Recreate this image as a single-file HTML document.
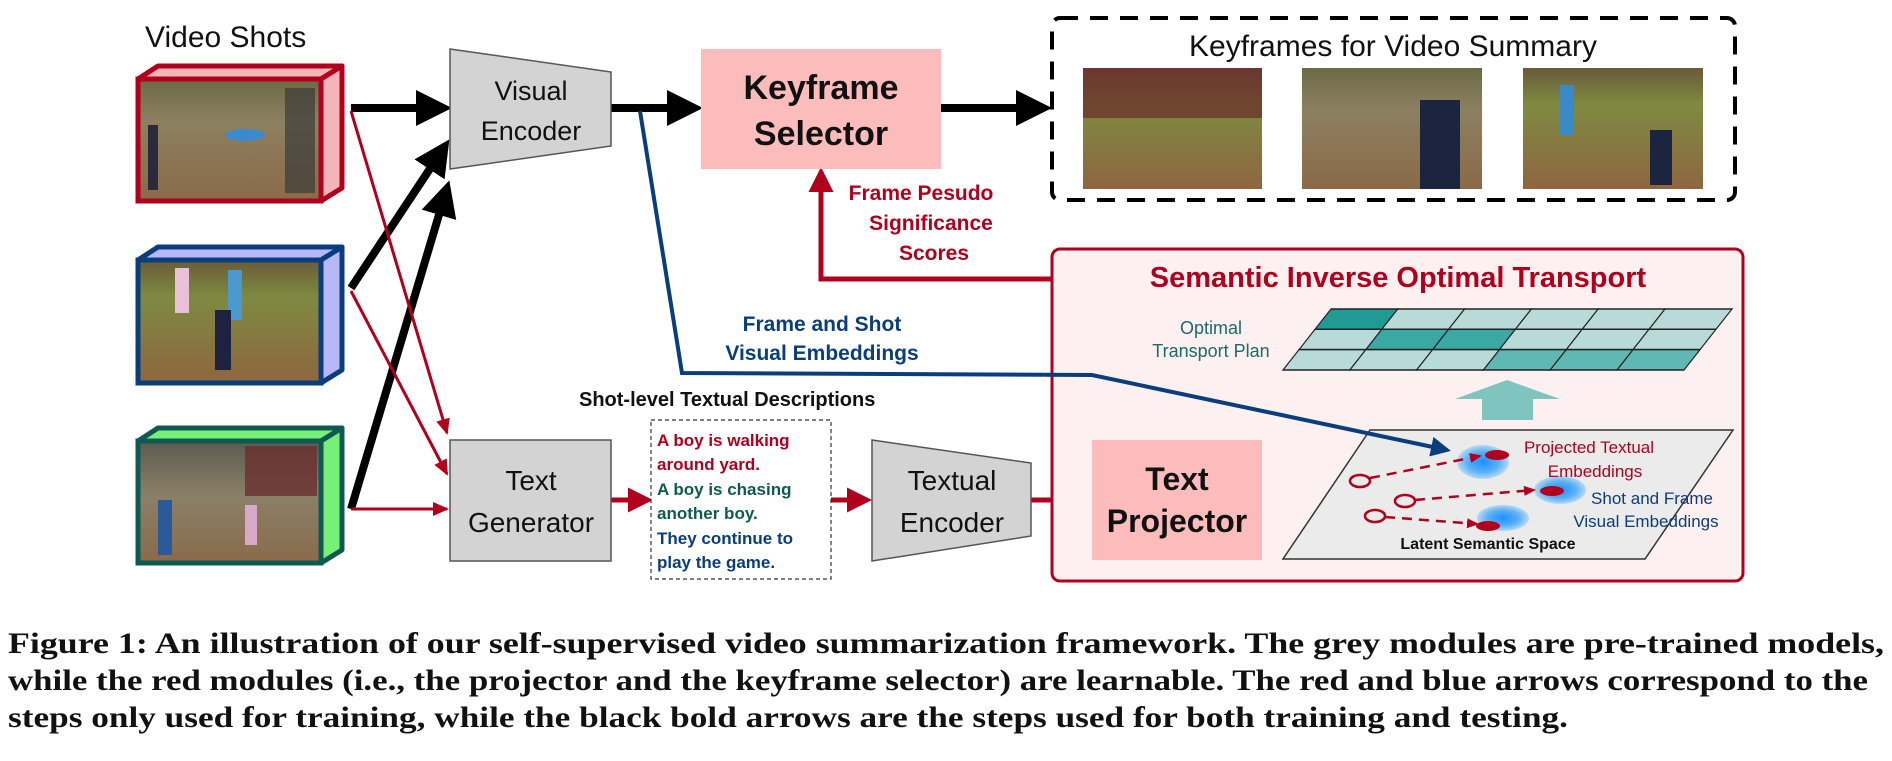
<!DOCTYPE html>
<html><head><meta charset="utf-8"><style>
html,body{margin:0;padding:0;background:#fff;}
svg{display:block;font-family:"Liberation Sans",Arial,sans-serif;}
</style></head><body>
<svg width="1892" height="761" viewBox="0 0 1892 761" xmlns="http://www.w3.org/2000/svg">
<defs>
<marker id="ak" markerWidth="4.5" markerHeight="4.5" refX="3.5" refY="2.25" orient="auto" markerUnits="strokeWidth"><path d="M0,0 L4.5,2.25 L0,4.5 z" fill="#000"/></marker>
<marker id="ar" markerWidth="5" markerHeight="5" refX="4" refY="2.5" orient="auto" markerUnits="strokeWidth"><path d="M0,0 L5,2.5 L0,5 z" fill="#b0001e"/></marker>
<marker id="arl" markerWidth="16" markerHeight="14" refX="14" refY="7" orient="auto" markerUnits="userSpaceOnUse"><path d="M0,0 L16,7 L0,14 z" fill="#b0001e"/></marker>
<marker id="ars" markerWidth="12" markerHeight="10" refX="10" refY="5" orient="auto" markerUnits="userSpaceOnUse"><path d="M0,0 L12,5 L0,10 z" fill="#b0001e"/></marker>
<marker id="ab" markerWidth="5" markerHeight="5" refX="4" refY="2.5" orient="auto" markerUnits="strokeWidth"><path d="M0,0 L5,2.5 L0,5 z" fill="#0a3d7c"/></marker>
<linearGradient id="ph1" x1="0" y1="0" x2="0" y2="1"><stop offset="0" stop-color="#6b6a45"/><stop offset="0.35" stop-color="#8c8060"/><stop offset="1" stop-color="#8a6a48"/></linearGradient>
<linearGradient id="ph2" x1="0" y1="0" x2="0" y2="1"><stop offset="0" stop-color="#6a5a3a"/><stop offset="0.3" stop-color="#7e8a40"/><stop offset="1" stop-color="#8e6640"/></linearGradient>
<linearGradient id="ph3" x1="0" y1="0" x2="0" y2="1"><stop offset="0" stop-color="#5e5a50"/><stop offset="0.45" stop-color="#8a8068"/><stop offset="1" stop-color="#8a6a4a"/></linearGradient>
<radialGradient id="blob"><stop offset="0" stop-color="#1e90ff"/><stop offset="0.6" stop-color="#5ab0f5"/><stop offset="1" stop-color="#b5d9f5"/></radialGradient>
</defs>

<text x="145" y="47" font-size="30" fill="#111">Video Shots</text>

<polygon points="138,79 158,66 342,66 321,79" fill="#f4b4b8" stroke="#b0001e" stroke-width="5" stroke-linejoin="round"/>
<polygon points="321,79 342,66 342,188 321,201" fill="#f4b4b8" stroke="#b0001e" stroke-width="5" stroke-linejoin="round"/>
<rect x="138" y="79" width="183" height="122" fill="url(#ph1)" stroke="#b0001e" stroke-width="5"/>
<rect x="285" y="88" width="30" height="105" fill="#3c3a38" opacity="0.7"/>
<ellipse cx="245" cy="135" rx="20" ry="6" fill="#3a8ad0"/>
<rect x="148" y="125" width="10" height="65" fill="#2a2a3a"/>
<polygon points="138,260 158,247 342,247 321,260" fill="#b8b8f8" stroke="#0a3d7c" stroke-width="5" stroke-linejoin="round"/>
<polygon points="321,260 342,247 342,370 321,383" fill="#b8b8f8" stroke="#0a3d7c" stroke-width="5" stroke-linejoin="round"/>
<rect x="138" y="260" width="183" height="123" fill="url(#ph2)" stroke="#0a3d7c" stroke-width="5"/>
<rect x="175" y="268" width="14" height="45" fill="#e8c0d8"/>
<rect x="228" y="270" width="14" height="50" fill="#4a9ad0"/>
<rect x="215" y="310" width="16" height="60" fill="#1c2240"/>
<polygon points="138,441 158,428 342,428 321,441" fill="#78f078" stroke="#0e5a52" stroke-width="5" stroke-linejoin="round"/>
<polygon points="321,441 342,428 342,550 321,563" fill="#78f078" stroke="#0e5a52" stroke-width="5" stroke-linejoin="round"/>
<rect x="138" y="441" width="183" height="122" fill="url(#ph3)" stroke="#0e5a52" stroke-width="5"/>
<rect x="245" y="446" width="72" height="50" fill="#6a3030" opacity="0.8"/>
<rect x="158" y="500" width="14" height="55" fill="#2a5a9a"/>
<rect x="245" y="505" width="12" height="40" fill="#d8a8c8"/>

<g stroke="#000" stroke-width="8" fill="none">
<line x1="351" y1="108" x2="444" y2="108" marker-end="url(#ak)"/>
<polyline points="351,288 445,146" marker-end="url(#ak)"/>
<polyline points="351,509 447,188" marker-end="url(#ak)"/>
<line x1="611" y1="108" x2="695" y2="108" marker-end="url(#ak)"/>
<line x1="941" y1="108" x2="1044" y2="108" marker-end="url(#ak)"/>
</g>
<g stroke="#b0001e" stroke-width="3" fill="none">
<polyline points="351,111 447,433" marker-end="url(#arl)"/>
<polyline points="351,291 447,474" marker-end="url(#arl)"/>
<polyline points="351,509 447,509" marker-end="url(#arl)"/>
</g>
<g stroke="#b0001e" stroke-width="5" fill="none">
<line x1="611" y1="500" x2="648" y2="500" marker-end="url(#ar)"/>
<line x1="831" y1="500" x2="867" y2="500" marker-end="url(#ar)"/>
<line x1="1031" y1="500" x2="1089" y2="500" marker-end="url(#ar)"/>
<line x1="1262" y1="500" x2="1308" y2="500" marker-end="url(#ar)"/>
<polyline points="1052,279 821,279 821,172" marker-end="url(#ar)"/>
</g>

<polygon points="450,49 611,72 611,146 450,169" fill="#d3d3d3" stroke="#555" stroke-width="1.5"/>
<text x="531" y="100" font-size="27" text-anchor="middle" fill="#111">Visual</text>
<text x="531" y="140" font-size="27" text-anchor="middle" fill="#111">Encoder</text>
<rect x="701" y="49" width="240" height="120" fill="#fdbcbc"/>
<text x="821" y="99" font-size="34" font-weight="bold" text-anchor="middle" fill="#111">Keyframe</text>
<text x="821" y="145" font-size="34" font-weight="bold" text-anchor="middle" fill="#111">Selector</text>

<rect x="1052" y="18" width="683" height="182" rx="8" fill="none" stroke="#000" stroke-width="4" stroke-dasharray="18,12"/>
<text x="1393" y="56" font-size="30" text-anchor="middle" fill="#111">Keyframes for Video Summary</text>
<rect x="1083" y="68" width="179" height="121" fill="url(#ph2)"/>
<rect x="1083" y="68" width="179" height="50" fill="#6a2a2a" opacity="0.7"/>
<rect x="1302" y="68" width="180" height="121" fill="url(#ph1)"/>
<rect x="1420" y="100" width="40" height="89" fill="#1c2540"/>
<rect x="1523" y="68" width="180" height="121" fill="url(#ph2)"/>
<rect x="1560" y="85" width="14" height="50" fill="#3a8ac8"/>
<rect x="1650" y="130" width="22" height="55" fill="#1c2540"/>

<g font-size="21" font-weight="bold" fill="#b0001e" text-anchor="middle">
<text x="921" y="200">Frame Pesudo</text>
<text x="931" y="230">Significance</text>
<text x="934" y="260">Scores</text>
</g>

<g font-size="21" font-weight="bold" fill="#0a3d7c" text-anchor="middle">
<text x="822" y="331">Frame and Shot</text>
<text x="822" y="360">Visual Embeddings</text>
</g>

<text x="579" y="406" font-size="20" font-weight="bold" fill="#111">Shot-level Textual Descriptions</text>

<rect x="450" y="440" width="161" height="121" fill="#d3d3d3" stroke="#555" stroke-width="1.5"/>
<text x="531" y="490" font-size="28" text-anchor="middle" fill="#111">Text</text>
<text x="531" y="532" font-size="28" text-anchor="middle" fill="#111">Generator</text>

<rect x="651" y="420" width="180" height="159" fill="#fff" stroke="#333" stroke-width="1.2" stroke-dasharray="4,3"/>
<g font-size="17" font-weight="bold">
<text x="657" y="446" fill="#b0001e">A boy is walking</text>
<text x="657" y="470" fill="#b0001e">around yard.</text>
<text x="657" y="495" fill="#0e5a52">A boy is chasing</text>
<text x="657" y="519" fill="#0e5a52">another boy.</text>
<text x="657" y="544" fill="#0a3d7c">They continue to</text>
<text x="657" y="568" fill="#0a3d7c">play the game.</text>
</g>

<polygon points="872,440 1031,463 1031,536 872,561" fill="#d3d3d3" stroke="#555" stroke-width="1.5"/>
<text x="952" y="490" font-size="28" text-anchor="middle" fill="#111">Textual</text>
<text x="952" y="532" font-size="28" text-anchor="middle" fill="#111">Encoder</text>

<rect x="1052" y="249" width="691" height="332" rx="8" fill="#fdf0f0" stroke="#b0001e" stroke-width="3"/>
<text x="1398" y="287" font-size="29" font-weight="bold" text-anchor="middle" fill="#b0001e">Semantic Inverse Optimal Transport</text>

<g transform="translate(0,309) skewX(-38.2) translate(0,-309)" stroke="#222" stroke-width="1.5">
<rect x="1331" y="309" width="66.8" height="20.3" fill="#1f9a94"/>
<rect x="1397.8" y="309" width="66.8" height="20.3" fill="#b8dbd9"/>
<rect x="1464.6" y="309" width="66.8" height="20.3" fill="#b8dbd9"/>
<rect x="1531.4" y="309" width="66.8" height="20.3" fill="#b8dbd9"/>
<rect x="1598.2" y="309" width="66.8" height="20.3" fill="#b8dbd9"/>
<rect x="1665" y="309" width="67" height="20.3" fill="#b8dbd9"/>
<rect x="1331" y="329.3" width="66.8" height="20.3" fill="#b8dbd9"/>
<rect x="1397.8" y="329.3" width="66.8" height="20.3" fill="#3aa8a3"/>
<rect x="1464.6" y="329.3" width="66.8" height="20.3" fill="#3aa8a3"/>
<rect x="1531.4" y="329.3" width="66.8" height="20.3" fill="#b8dbd9"/>
<rect x="1598.2" y="329.3" width="66.8" height="20.3" fill="#b8dbd9"/>
<rect x="1665" y="329.3" width="67" height="20.3" fill="#b8dbd9"/>
<rect x="1331" y="349.6" width="66.8" height="20.4" fill="#b8dbd9"/>
<rect x="1397.8" y="349.6" width="66.8" height="20.4" fill="#b8dbd9"/>
<rect x="1464.6" y="349.6" width="66.8" height="20.4" fill="#b8dbd9"/>
<rect x="1531.4" y="349.6" width="66.8" height="20.4" fill="#5fb8b3"/>
<rect x="1598.2" y="349.6" width="66.8" height="20.4" fill="#5fb8b3"/>
<rect x="1665" y="349.6" width="67" height="20.4" fill="#5fb8b3"/>
</g>
<g font-size="18" fill="#1a6b6b" text-anchor="middle">
<text x="1211" y="334">Optimal</text>
<text x="1211" y="357">Transport Plan</text>
</g>
<polygon points="1455,399 1507,380 1560,399 1533,399 1533,420 1482,420 1482,399" fill="#80c4bf"/>

<rect x="1092" y="440" width="170" height="120" fill="#fdbcbc"/>
<text x="1177" y="490" font-size="32" font-weight="bold" text-anchor="middle" fill="#111">Text</text>
<text x="1177" y="532" font-size="32" font-weight="bold" text-anchor="middle" fill="#111">Projector</text>

<polygon points="1370,430 1733,430 1645,559 1283,559" fill="#ebebeb" stroke="#333" stroke-width="1.5"/>
<ellipse cx="1483" cy="462" rx="26" ry="17" fill="url(#blob)"/>
<ellipse cx="1560" cy="490" rx="26" ry="14" fill="url(#blob)"/>
<ellipse cx="1503" cy="518" rx="26" ry="13" fill="url(#blob)"/>
<g fill="#b0001e">
<ellipse cx="1497" cy="455" rx="12" ry="5"/>
<ellipse cx="1552" cy="491" rx="12" ry="5"/>
<ellipse cx="1488" cy="526" rx="12" ry="5"/>
</g>
<g stroke="#b0001e" stroke-width="2.5" fill="none">
<ellipse cx="1360" cy="481" rx="10" ry="6"/>
<ellipse cx="1405" cy="501" rx="10" ry="6"/>
<ellipse cx="1375" cy="516" rx="10" ry="6"/>
<polyline points="1370,478 1480,456" stroke-dasharray="10,7" marker-end="url(#ars)"/>
<polyline points="1415,500 1534,490" stroke-dasharray="10,7" marker-end="url(#ars)"/>
<polyline points="1385,517 1477,524" stroke-dasharray="10,7" marker-end="url(#ars)"/>
</g>
<g font-size="17" text-anchor="middle">
<text x="1589" y="453" fill="#b0001e">Projected Textual</text>
<text x="1595" y="477" fill="#b0001e">Embeddings</text>
<text x="1652" y="504" fill="#0a3d7c">Shot and Frame</text>
<text x="1646" y="527" fill="#0a3d7c">Visual Embeddings</text>
</g>
<text x="1488" y="549" font-size="16" font-weight="bold" text-anchor="middle" fill="#111">Latent Semantic Space</text>

<polyline points="640,111 682,373 1092,375 1447,450" fill="none" stroke="#0a3d7c" stroke-width="4" marker-end="url(#ab)"/>

<g font-family="'Liberation Serif', serif" font-size="30" font-weight="bold" fill="#111">
<text x="8" y="653" textLength="1876" lengthAdjust="spacingAndGlyphs">Figure 1: An illustration of our self-supervised video summarization framework. The grey modules are pre-trained models,</text>
<text x="8" y="690" textLength="1860" lengthAdjust="spacingAndGlyphs">while the red modules (i.e., the projector and the keyframe selector) are learnable. The red and blue arrows correspond to the</text>
<text x="8" y="727" textLength="1560" lengthAdjust="spacingAndGlyphs">steps only used for training, while the black bold arrows are the steps used for both training and testing.</text>
</g>
</svg>
</body></html>
